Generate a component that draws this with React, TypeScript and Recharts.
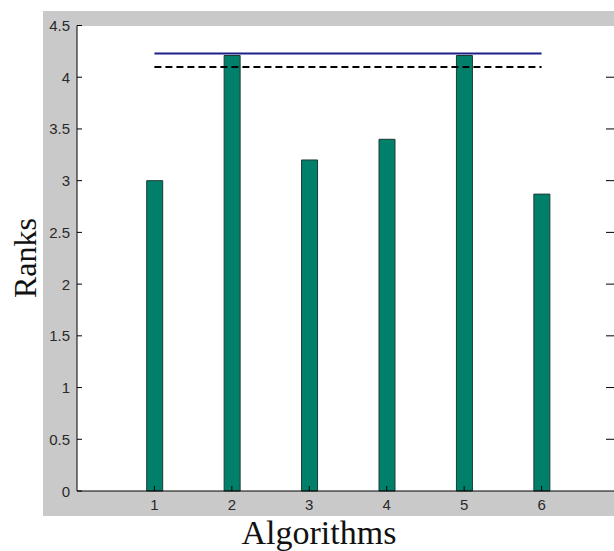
import { ComposedChart, Bar, Line, XAxis, YAxis } from 'recharts'

const algorithms = ['1', '2', '3', '4', '5', '6']
const ranks = [3.0, 4.21, 3.2, 3.4, 4.21, 2.87]
const upperBound = 4.23
const criticalLevel = 4.1
const rankTicks = [0, 0.5, 1, 1.5, 2, 2.5, 3, 3.5, 4, 4.5]

const data = algorithms.map((name, i) => ({
    name,
    rank: ranks[i],
    upper: upperBound,
    critical: criticalLevel,
}))

const tickFont = { fontFamily: '"Liberation Sans", Arial, sans-serif', fontSize: 15, fill: '#2a2a2a' }

function LeftTick({ x, y, payload }: any) {
    return (
        <g>
            <line x1={x} y1={y} x2={x + 5} y2={y} stroke="#000" />
            <text x={x - 7} y={y} textAnchor="end" dominantBaseline="central" {...tickFont}>
                {payload.value}
            </text>
        </g>
    )
}

// right-hand box ticks, the axis itself sits just past the picture edge
function RightTick({ x, y, payload }: any) {
    if (payload.value === 0 || payload.value === 4.5) return null
    return <line x1={x - 13} y1={y} x2={x} y2={y} stroke="#000" />
}

function BottomTick({ x, y, payload }: any) {
    return (
        <g>
            <line x1={x} y1={y} x2={x} y2={y - 5} stroke="#000" />
            <text x={x} y={y + 19} textAnchor="middle" {...tickFont}>
                {payload.value}
            </text>
        </g>
    )
}

function TopTick({ x, y }: any) {
    return <line x1={x} y1={y} x2={x} y2={y + 5} stroke="#000" />
}

export default function App() {
    return (
        <div style={{ position: 'absolute', left: 0, top: 0, width: 614, height: 551, overflow: 'hidden', background: '#fff' }}>
            <div style={{ position: 'absolute', left: 43, top: 11, width: 571, height: 505, background: '#c9c9c9' }} />
            <div style={{ position: 'absolute', left: 77, top: 26, width: 560, height: 465, background: '#fff' }} />
            <div style={{ position: 'absolute', left: 0, top: 0 }}>
                <ComposedChart width={680} height={551} data={data} margin={{ top: 25.5, right: 60, left: 0, bottom: 30 }}>
                    <XAxis
                        dataKey="name"
                        xAxisId="bottom"
                        height={30}
                        padding={{ left: 38.7, right: 38.7 }}
                        axisLine={{ stroke: '#000' }}
                        tickLine={false}
                        tickSize={0}
                        tickMargin={0}
                        tick={<BottomTick />}
                        interval={0}
                    />
                    <XAxis
                        dataKey="name"
                        xAxisId="top"
                        orientation="top"
                        height={0}
                        padding={{ left: 38.7, right: 38.7 }}
                        axisLine={{ stroke: '#000' }}
                        tickLine={false}
                        tickSize={0}
                        tickMargin={0}
                        tick={<TopTick />}
                        interval={0}
                    />
                    <YAxis
                        yAxisId="left"
                        width={77}
                        domain={[0, 4.5]}
                        ticks={rankTicks}
                        axisLine={{ stroke: '#000' }}
                        tickLine={false}
                        tickSize={0}
                        tickMargin={0}
                        tick={<LeftTick />}
                        interval={0}
                    />
                    <YAxis
                        yAxisId="right"
                        orientation="right"
                        width={1}
                        domain={[0, 4.5]}
                        ticks={rankTicks}
                        axisLine={{ stroke: '#000' }}
                        tickLine={false}
                        tickSize={0}
                        tickMargin={0}
                        tick={<RightTick />}
                        interval={0}
                    />
                    <Bar
                        dataKey="rank"
                        xAxisId="bottom"
                        yAxisId="left"
                        barSize={16}
                        fill="#00806a"
                        stroke="#1c3b32"
                        strokeWidth={1}
                        isAnimationActive={false}
                    />
                    <Line
                        dataKey="upper"
                        xAxisId="top"
                        yAxisId="left"
                        stroke="#1f1f8c"
                        strokeWidth={2}
                        dot={false}
                        activeDot={false}
                        isAnimationActive={false}
                    />
                    <Line
                        dataKey="critical"
                        xAxisId="bottom"
                        yAxisId="right"
                        stroke="#000"
                        strokeWidth={2}
                        strokeDasharray="7 4"
                        dot={false}
                        activeDot={false}
                        isAnimationActive={false}
                    />
                </ComposedChart>
            </div>
            <div
                style={{
                    position: 'absolute',
                    left: 25,
                    top: 258,
                    transform: 'translate(-50%, -50%) rotate(-90deg)',
                    fontFamily: '"Liberation Serif", "Times New Roman", serif',
                    fontSize: 32,
                    lineHeight: 1,
                    whiteSpace: 'nowrap',
                    color: '#111',
                }}
            >
                Ranks
            </div>
            <div
                style={{
                    position: 'absolute',
                    left: 319,
                    top: 516,
                    transform: 'translateX(-50%)',
                    fontFamily: '"Liberation Serif", "Times New Roman", serif',
                    fontSize: 34,
                    lineHeight: 1,
                    whiteSpace: 'nowrap',
                    color: '#111',
                }}
            >
                Algorithms
            </div>
        </div>
    )
}
